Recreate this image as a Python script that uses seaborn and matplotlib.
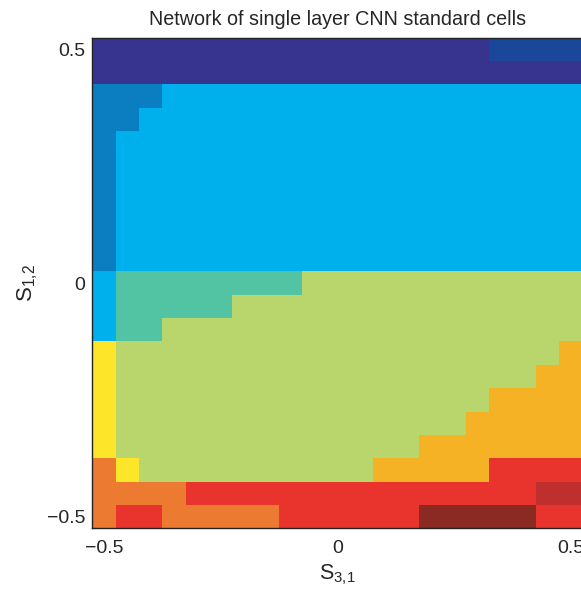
import numpy as np
import pandas as pd
import matplotlib
matplotlib.use("Agg")
import matplotlib.pyplot as plt
from matplotlib.colors import ListedColormap
import seaborn as sns

# Grid coordinates
s31 = np.round(np.arange(-0.5, 0.5001, 0.05), 2)      # x axis (columns)
s12 = np.round(np.arange(0.5, -0.5001, -0.05), 2)     # y axis (rows, top to bottom)

# Class letters per cell, row by row from S12 = 0.5 (top) to -0.5 (bottom)
class_rows = [
    "PPPPPPPPPPPPPPPPPBBBB",
    "PPPPPPPPPPPPPPPPPPPPP",
    "DDDCCCCCCCCCCCCCCCCCC",
    "DDCCCCCCCCCCCCCCCCCCC",
    "DCCCCCCCCCCCCCCCCCCCC",
    "DCCCCCCCCCCCCCCCCCCCC",
    "DCCCCCCCCCCCCCCCCCCCC",
    "DCCCCCCCCCCCCCCCCCCCC",
    "DCCCCCCCCCCCCCCCCCCCC",
    "DCCCCCCCCCCCCCCCCCCCC",
    "CTTTTTTTTGGGGGGGGGGGG",
    "CTTTTTGGGGGGGGGGGGGGG",
    "CTTGGGGGGGGGGGGGGGGGG",
    "YGGGGGGGGGGGGGGGGGGGA",
    "YGGGGGGGGGGGGGGGGGGAA",
    "YGGGGGGGGGGGGGGGGAAAA",
    "YGGGGGGGGGGGGGGGAAAAA",
    "YGGGGGGGGGGGGGAAAAAAA",
    "OYGGGGGGGGGGAAAAARRRR",
    "OOOORRRRRRRRRRRRRRRKK",
    "ORROOOOORRRRRRWWWWWRR",
]

class_codes = ["P", "B", "D", "C", "T", "G", "Y", "A", "O", "R", "K", "W"]
class_colors = ["#36348f", "#1b479b", "#0a7ec0", "#00b0ec", "#52c3a3", "#b8d66b",
                "#fde52a", "#f5b225", "#ec7a30", "#e8342d", "#bf2f2e", "#8a2a22"]

title = "Network of single layer CNN standard cells"
tick_vals = [-0.5, 0.0, 0.5]
tick_labels = ["\u22120.5", "0", "0.5"]

code_index = {c: i for i, c in enumerate(class_codes)}
matrix = np.array([[code_index[ch] for ch in row] for row in class_rows])
df = pd.DataFrame(matrix, index=s12, columns=s31)

sns.set_style("white")
plt.rcParams["font.family"] = ["Liberation Sans", "DejaVu Sans"]

fig = plt.figure(figsize=(5.81, 5.89), dpi=100)
ax = fig.add_axes([92.3 / 581, (589 - 528.4) / 589, 490.4 / 581, 490.8 / 589])

sns.heatmap(df, ax=ax, cmap=ListedColormap(class_colors), vmin=-0.5,
            vmax=len(class_codes) - 0.5, cbar=False, square=False,
            xticklabels=False, yticklabels=False)

xpos = [list(s31).index(v) + 0.5 for v in tick_vals]
ypos = [list(s12).index(v) + 0.5 for v in tick_vals]
ax.set_xticks(xpos)
ax.set_xticklabels(tick_labels, fontsize=14)
ax.set_yticks(ypos)
ax.set_yticklabels(tick_labels, fontsize=14, rotation=0)
ax.tick_params(direction="in", length=5, width=0.8, color="black",
               top=True, right=True, bottom=True, left=True,
               labeltop=False, labelright=False)
ax.tick_params(axis="x", pad=8)
ax.tick_params(axis="y", pad=5)

for sp in ax.spines.values():
    sp.set_visible(True)
    sp.set_color("#222222")
    sp.set_linewidth(1.0)

ax.set_title(title, fontsize=14.2, pad=9)
ax.set_xlabel(r"$\mathregular{S_{3{,}1}}$", fontsize=15.5, labelpad=4)
ax.set_ylabel(r"$\mathregular{S_{1{,}2}}$", fontsize=16, labelpad=5)

fig.savefig("out.png", dpi=100)
